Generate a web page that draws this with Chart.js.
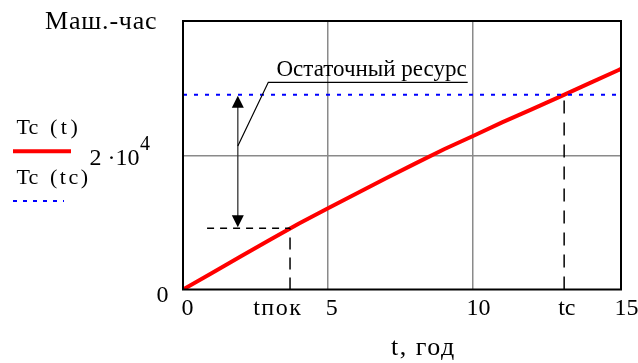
<!DOCTYPE html>
<html>
<head>
<meta charset="utf-8">
<script src="https://cdn.jsdelivr.net/npm/chart.js@4.4.0/dist/chart.umd.min.js"></script>
<style>
  html, body { margin: 0; padding: 0; background: #fff; }
  #wrap { width: 638px; height: 363px; position: relative; }
</style>
</head>
<body>
<div id="wrap"><canvas id="c"></canvas></div>
<script>
// ---- data ----
const years    = [0, 1, 2, 3, 4, 5, 6, 7, 8, 9, 10, 11, 12, 13, 14, 15, 15.1];
const tcValues = [0, 2470, 4940, 7400, 9830, 12100, 14350, 16560, 18750, 20900, 22870, 24900, 26800, 28730, 30700, 32660, 32860];
const tPok = 3.69;          // tпок, years
const tPokValue = 9120;     // Tc(tпок)
const tcYear = 13.14;       // tc, years
const tcLevel = 29000;      // Tc(tc)
const arrowYear = 1.89;     // where the "residual resource" arrow stands
const dashStartYear = 0.83; // start of horizontal dashed guide
const xMin = 0, xMax = 15.1;
const yMin = 0, yMax = 40000;
const xGridValues = [5, 10];
const yGridValues = [20000];
const xTickValues = [0, tPok, 5, 10, tcYear, 15];
const xTickLabels = ['0', 'tпок', '5', '10', 'tc', '15'];
const yTickValues = [0, 20000];
const yTickLabels = ['0', '2 ·10'];
const yTickSup    = ['', '4'];
const seriesNames = ['Tc', 'Tc'];
const seriesArgs  = ['(t)', '(tc)'];
const yTitle = 'Маш.-час';
const xTitle = 't, год';
const noteText = 'Остаточный ресурс';

// ---- style / layout ----
const FONT = '"Liberation Serif", "Times New Roman", serif';
const xLabelShift = [4.5, -12.3, 3.7, 5.4, 2.7, 8.5];
const xLabelSpacing = [0, 1.5, 0, 0, 0, 0];

const overlay = {
  id: 'overlay',
  afterDraw(chart) {
    const { ctx, chartArea: a, scales: { x, y } } = chart;
    ctx.save();
    // frame
    ctx.strokeStyle = '#000';
    ctx.lineWidth = 2;
    ctx.strokeRect(a.left, a.top, a.right - a.left, a.bottom - a.top);

    ctx.fillStyle = '#000';
    ctx.textBaseline = 'alphabetic';
    // x tick labels
    ctx.font = '24px ' + FONT;
    ctx.textAlign = 'center';
    xTickValues.forEach((v, i) => {
      ctx.letterSpacing = xLabelSpacing[i] + 'px';
      ctx.fillText(xTickLabels[i], x.getPixelForValue(v) + xLabelShift[i], a.bottom + 25.5);
    });
    ctx.letterSpacing = '0px';
    // y tick labels
    yTickValues.forEach((v, i) => {
      const py = y.getPixelForValue(v);
      if (yTickSup[i]) {
        ctx.font = '24px ' + FONT;
        ctx.textAlign = 'right';
        ctx.fillText(yTickLabels[i], 139.5, py + 9.75);
        ctx.font = '20px ' + FONT;
        ctx.textAlign = 'left';
        ctx.fillText(yTickSup[i], 140, py - 5.5);
      } else {
        ctx.font = '24px ' + FONT;
        ctx.textAlign = 'right';
        ctx.fillText(yTickLabels[i], 168.5, py + 12);
      }
    });
    // titles
    ctx.font = '26px ' + FONT;
    ctx.textAlign = 'left';
    ctx.letterSpacing = '0.8px';
    ctx.fillText(yTitle, 45, 29.3);
    ctx.letterSpacing = '1.5px';
    ctx.font = '26px ' + FONT;
    ctx.fillText(xTitle, 391, 355);

    // legend
    ctx.font = '22px ' + FONT;
    ctx.textAlign = 'left';
    ctx.letterSpacing = '0px';
    ctx.fillText(seriesNames[0], 16.5, 134.3);
    ctx.fillText(seriesNames[1], 16.5, 183.5);
    ctx.letterSpacing = '3.5px';
    ctx.fillText(seriesArgs[0], 50, 134.3);
    ctx.letterSpacing = '2.5px';
    ctx.fillText(seriesArgs[1], 50, 183.5);
    ctx.letterSpacing = '0px';
    ctx.strokeStyle = '#ff0000';
    ctx.lineWidth = 4;
    ctx.beginPath(); ctx.moveTo(13, 151.3); ctx.lineTo(71, 151.3); ctx.stroke();
    ctx.strokeStyle = '#0000ff';
    ctx.lineWidth = 2;
    ctx.setLineDash([4, 6]);
    ctx.beginPath(); ctx.moveTo(13, 201); ctx.lineTo(64, 201); ctx.stroke();
    ctx.setLineDash([]);

    // arrow for residual resource
    const ax = x.getPixelForValue(arrowYear);
    const yT = y.getPixelForValue(tcLevel);
    const yB = y.getPixelForValue(tPokValue);
    ctx.strokeStyle = '#333';
    ctx.lineWidth = 1.3;
    ctx.beginPath(); ctx.moveTo(ax, yT + 10); ctx.lineTo(ax, yB - 10); ctx.stroke();
    ctx.fillStyle = '#000';
    ctx.beginPath(); ctx.moveTo(ax, yT + 1); ctx.lineTo(ax - 6, yT + 13); ctx.lineTo(ax + 6, yT + 13); ctx.closePath(); ctx.fill();
    ctx.beginPath(); ctx.moveTo(ax, yB - 1); ctx.lineTo(ax - 6, yB - 13); ctx.lineTo(ax + 6, yB - 13); ctx.closePath(); ctx.fill();

    // note with leader line
    ctx.strokeStyle = '#000';
    ctx.lineWidth = 1.2;
    ctx.beginPath();
    ctx.moveTo(ax, 146);
    ctx.lineTo(268.3, 82.3);
    ctx.lineTo(467.7, 82.3);
    ctx.stroke();
    ctx.font = '23px ' + FONT;
    ctx.textAlign = 'left';
    ctx.fillText(noteText, 276.5, 76);
    ctx.restore();
  }
};

const gridColor = (vals) => (c) => (c.tick && vals.includes(c.tick.value)) ? '#8a8a8a' : 'rgba(0,0,0,0)';

new Chart(document.getElementById('c'), {
  type: 'line',
  data: {
    datasets: [
      {
        label: 'Tc (tc)',
        data: [{ x: xMin, y: tcLevel }, { x: xMax, y: tcLevel }],
        borderColor: '#0000ff', borderWidth: 2, borderDash: [4, 7],
        pointRadius: 0, fill: false
      },
      {
        label: 'tпок guide v',
        data: [{ x: tPok, y: 0 }, { x: tPok, y: tPokValue }],
        borderColor: '#000', borderWidth: 1.5, borderDash: [12, 8],
        pointRadius: 0, fill: false
      },
      {
        label: 'tпок guide h',
        data: [{ x: dashStartYear, y: tPokValue }, { x: tPok, y: tPokValue }],
        borderColor: '#000', borderWidth: 1.5, borderDash: [7, 6],
        pointRadius: 0, fill: false
      },
      {
        label: 'tc guide',
        data: [{ x: tcYear, y: 0 }, { x: tcYear, y: tcLevel }],
        borderColor: '#000', borderWidth: 1.5, borderDash: [13, 9],
        pointRadius: 0, fill: false
      },
      {
        label: 'Tc (t)',
        data: years.map((t, i) => ({ x: t, y: tcValues[i] })),
        borderColor: '#ff0000', borderWidth: 4,
        pointRadius: 0, fill: false, tension: 0
      }
    ]
  },
  options: {
    responsive: true,
    maintainAspectRatio: false,
    animation: false,
    devicePixelRatio: 1,
    layout: { padding: { left: 0, top: 21, right: 17, bottom: 0 } },
    plugins: { legend: { display: false }, tooltip: { enabled: false }, title: { display: false } },
    scales: {
      x: {
        type: 'linear', min: xMin, max: xMax,
        afterBuildTicks: (s) => { s.ticks = [0, 5, 10, 15].map(v => ({ value: v })); },
        afterFit: (s) => { s.height = 73.5; },
        ticks: { display: false },
        grid: { color: gridColor(xGridValues), lineWidth: 1.5, drawTicks: false },
        border: { display: false }
      },
      y: {
        type: 'linear', min: yMin, max: yMax,
        afterBuildTicks: (s) => { s.ticks = [0, 20000, 40000].map(v => ({ value: v })); },
        afterFit: (s) => { s.width = 183; },
        ticks: { display: false },
        grid: { color: gridColor(yGridValues), lineWidth: 1.5, drawTicks: false },
        border: { display: false }
      }
    }
  },
  plugins: [overlay]
});
</script>
</body>
</html>
